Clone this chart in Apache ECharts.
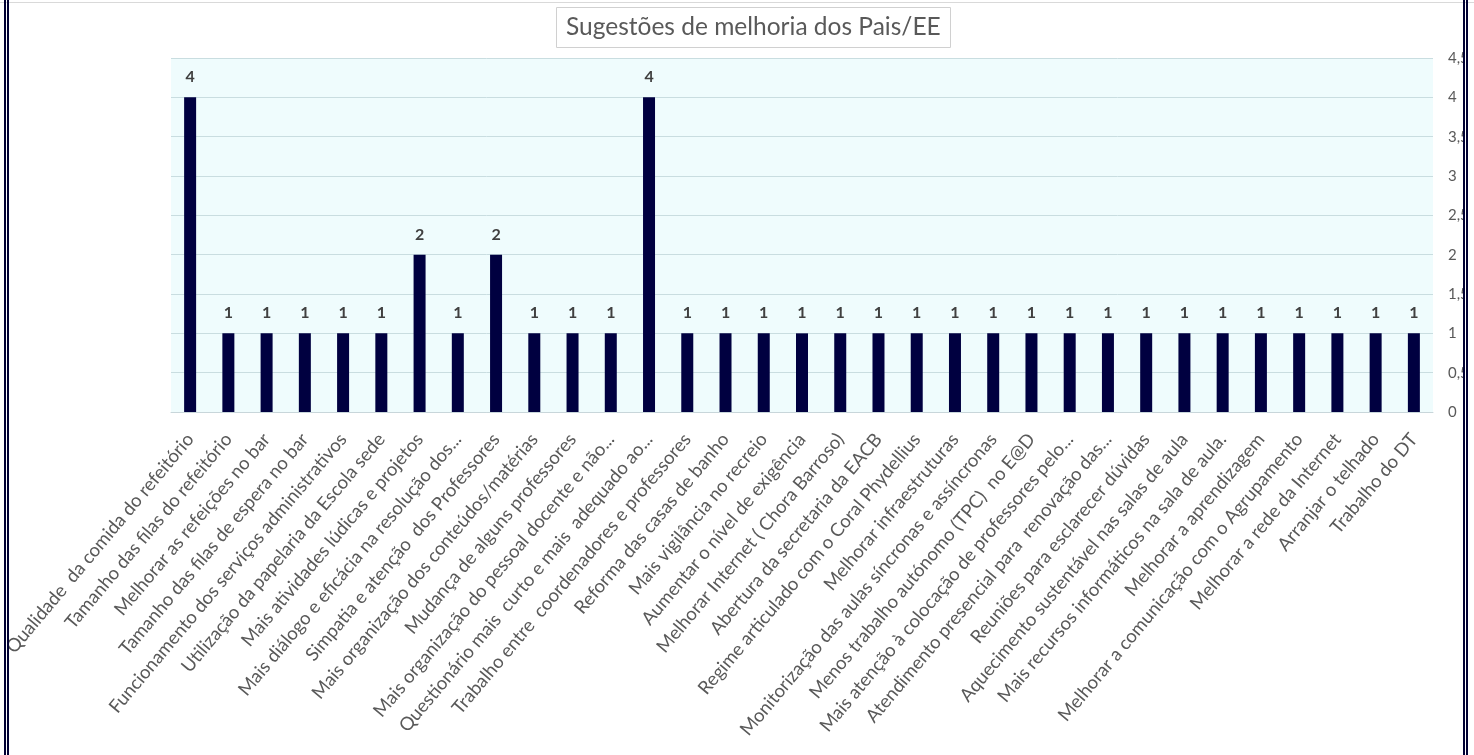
<!DOCTYPE html>
<html>
<head>
<meta charset="utf-8">
<script src="https://cdn.jsdelivr.net/npm/echarts@6/dist/echarts.min.js"></script>
<style>
  html, body { margin: 0; padding: 0; background: #fff; }
  .wrap { position: relative; width: 1474px; height: 755px; overflow: hidden; }
  #chart { position: absolute; left: 0; top: 0; width: 1463px; height: 755px; }
  .top-line { position: absolute; left: 0; top: 2px; width: 1474px; height: 1px; background: #d9d9d9; }
  .frame { position: absolute; top: 0; height: 755px; width: 1px; border-left: 2px solid #000033; border-right: 2px solid #000033; }
</style>
</head>
<body>
<div class="wrap">
  <div id="chart"></div>
  <div class="top-line"></div>
  <div class="frame" style="left:4px"></div>
  <div class="frame" style="left:1463px"></div>
</div>
<script>
const categories = [
  'Qualidade  da comida do refeitório',
  'Tamanho das filas do refeitório',
  'Melhorar as refeições no bar',
  'Tamanho das filas de espera no bar',
  'Funcionamento dos serviços administrativos',
  'Utilização da papelaria da Escola sede',
  'Mais atividades lúdicas e projetos',
  'Mais diálogo e eficácia na resolução dos...',
  'Simpatia e atenção  dos Professores',
  'Mais organização dos conteúdos/matérias',
  'Mudança de alguns professores',
  'Mais organização do pessoal docente e não...',
  'Questionário mais  curto e mais  adequado ao...',
  'Trabalho entre  coordenadores e professores',
  'Reforma das casas de banho',
  'Mais vigilância no recreio',
  'Aumentar o nível de exigência',
  'Melhorar Internet ( Chora Barroso)',
  'Abertura da secretaria da EACB',
  'Regime articulado com o Coral Phydellius',
  'Melhorar infraestruturas',
  'Monitorização das aulas síncronas e assíncronas',
  'Menos trabalho autónomo (TPC)  no E@D',
  'Mais atenção à colocação de professores pelo...',
  'Atendimento presencial para  renovação das...',
  'Reuniões para esclarecer dúvidas',
  'Aquecimento sustentável nas salas de aula',
  'Mais recursos informáticos na sala de aula.',
  'Melhorar a aprendizagem',
  'Melhorar a comunicação com o Agrupamento',
  'Melhorar a rede da Internet',
  'Arranjar o telhado',
  'Trabalho do DT'
];
const counts = [4, 1, 1, 1, 1, 1, 2, 1, 2, 1, 1, 1, 4, 1, 1, 1, 1, 1, 1, 1, 1, 1, 1, 1, 1, 1, 1, 1, 1, 1, 1, 1, 1];
const yMin = 0;
const yMax = 4.5;
const yStep = 0.5;

const font = 'Lato, "Open Sans", sans-serif';
const chart = echarts.init(document.getElementById('chart'));

chart.setOption({
  animation: false,
  title: {
    text: 'Sugestões de melhoria dos Pais/EE',
    left: 556,
    top: 7,
    padding: [8, 10, 8, 10],
    borderColor: '#d0d0d0',
    borderWidth: 1,
    textStyle: {
      color: '#595959',
      fontFamily: font,
      fontSize: 24.5,
      fontWeight: 'normal'
    }
  },
  grid: {
    left: 171,
    right: 30,
    top: 58,
    bottom: 343,
    containLabel: false,
    outerBoundsMode: 'none',
    show: true,
    backgroundColor: '#effcfd',
    borderWidth: 0
  },
  xAxis: {
    type: 'category',
    data: categories,
    axisTick: { show: false },
    axisLine: { lineStyle: { color: '#c8d6da', width: 1 } },
    axisLabel: {
      interval: 0,
      rotate: 50,
      margin: 24,
      color: '#595959',
      fontFamily: font,
      fontSize: 18.5
    }
  },
  yAxis: {
    type: 'value',
    position: 'right',
    min: yMin,
    max: yMax,
    interval: yStep,
    axisLine: { show: false },
    axisTick: { show: false },
    splitLine: { lineStyle: { color: '#c9dde0', width: 1 } },
    axisLabel: {
      margin: 15,
      color: '#595959',
      fontFamily: font,
      fontSize: 15,
      formatter: (v) => String(v).replace('.', ',')
    }
  },
  series: [
    {
      type: 'bar',
      data: counts,
      barWidth: 12,
      itemStyle: { color: '#000040' },
      label: {
        show: true,
        position: 'top',
        distance: 12,
        color: '#404040',
        fontFamily: font,
        fontSize: 16,
        fontWeight: 'bold'
      }
    }
  ]
});
</script>
</body>
</html>
